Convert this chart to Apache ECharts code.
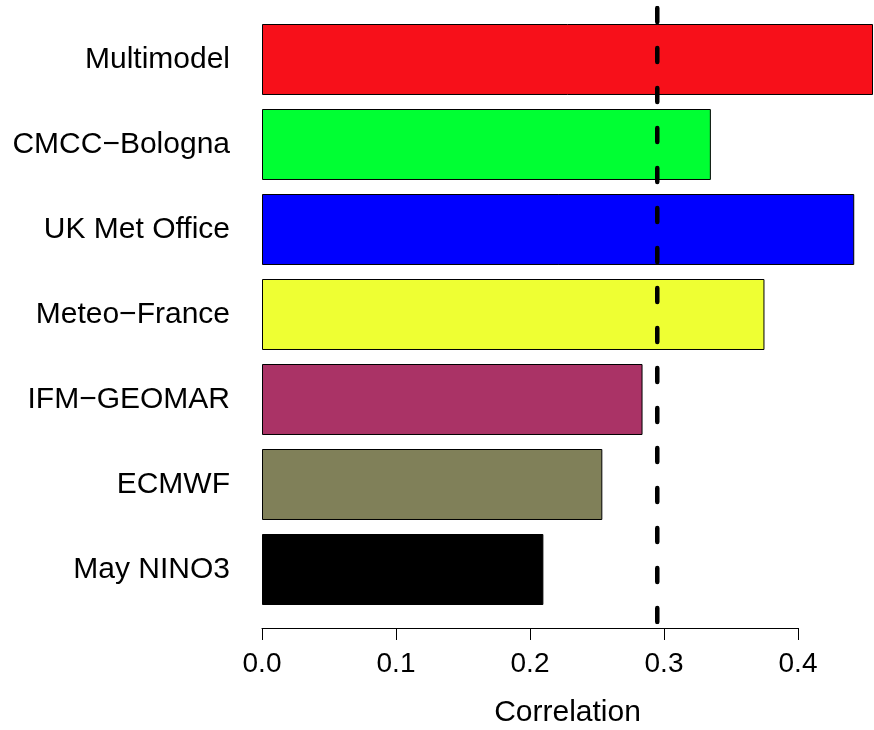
<!DOCTYPE html>
<html>
<head>
<meta charset="utf-8">
<script src="https://cdn.jsdelivr.net/npm/echarts@6/dist/echarts.min.js"></script>
<style>html,body{margin:0;padding:0;background:#fff}#c{width:874px;height:730px}</style>
</head>
<body>
<div id="c"></div>
<script>
const categories = ["Multimodel", "CMCC\u2212Bologna", "UK Met Office", "Meteo\u2212France", "IFM\u2212GEOMAR", "ECMWF", "May NINO3"];
const values = [0.456, 0.335, 0.442, 0.375, 0.284, 0.254, 0.210];
const barColors = ["#F7101A", "#00FF33", "#0000FF", "#EEFF33", "#AA3366", "#808059", "#000000"];
const referenceValue = 0.295;
const tickValues = [0.0, 0.1, 0.2, 0.3, 0.4];
const xTitle = "Correlation";

const font = "Liberation Sans, Arial, Helvetica, sans-serif";
const chart = echarts.init(document.getElementById('c'), null, {renderer: 'canvas'});
const xMax = 0.456;

chart.setOption({
  animation: false,
  backgroundColor: '#ffffff',
  grid: [
    {left: 262, top: 17, width: 611, height: 595, outerBoundsMode: 'none', containLabel: false},
    {left: 262, top: 627, width: 536, height: 1, outerBoundsMode: 'none', containLabel: false},
    {left: 262, top: 8, width: 611, height: 614, outerBoundsMode: 'none', containLabel: false}
  ],
  xAxis: [
    {gridIndex: 0, type: 'value', min: 0, max: xMax, show: true,
     axisLine: {show: false}, axisTick: {show: false}, axisLabel: {show: false}, splitLine: {show: false},
     name: xTitle, nameLocation: 'middle', nameGap: 86,
     nameTextStyle: {fontFamily: font, fontSize: 30, color: '#000'}},
    {gridIndex: 1, type: 'value', min: 0, max: tickValues[tickValues.length - 1], interval: 0.1,
     position: 'bottom',
     axisLine: {show: true, lineStyle: {color: '#000', width: 1}},
     axisTick: {show: true, length: 12, lineStyle: {color: '#000', width: 1}},
     splitLine: {show: false},
     axisLabel: {fontFamily: font, fontSize: 28, color: '#000', margin: 22,
       formatter: v => v.toFixed(1)}},
    {gridIndex: 2, type: 'value', min: 0, max: xMax, show: false}
  ],
  yAxis: [
    {gridIndex: 0, type: 'category', data: categories, inverse: true,
     axisLine: {show: false}, axisTick: {show: false}, splitLine: {show: false},
     axisLabel: {fontFamily: font, fontSize: 30, color: '#000', margin: 32}},
    {gridIndex: 1, type: 'value', show: false},
    {gridIndex: 2, type: 'value', min: 0, max: 1, show: false}
  ],
  series: [
    {type: 'bar', xAxisIndex: 0, yAxisIndex: 0, barCategoryGap: '16.5%',
     data: values.map((v, i) => ({value: v, itemStyle: {color: barColors[i]}})),
     itemStyle: {borderColor: '#000', borderWidth: 1}},
    {type: 'line', xAxisIndex: 2, yAxisIndex: 2, symbol: 'none',
     data: [[referenceValue, 1], [referenceValue, 0]],
     lineStyle: {color: '#000', width: 4.5, type: [14, 26], cap: 'round'}}
  ]
});
</script>
</body>
</html>
